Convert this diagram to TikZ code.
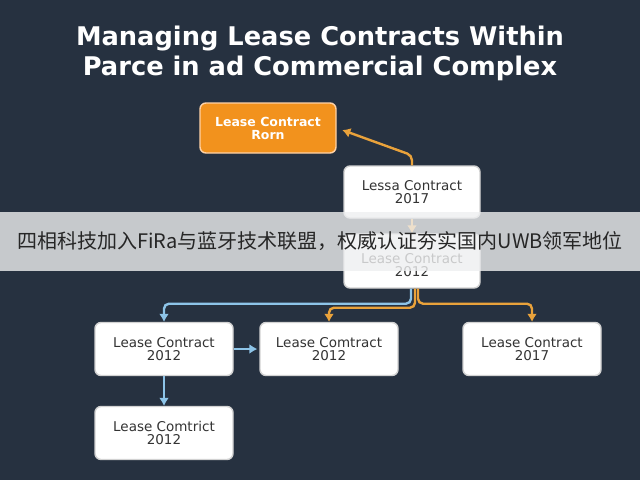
\documentclass[tikz,border=0pt]{standalone}
\usepackage{fontspec}
\setmainfont{Liberation Sans}
\newfontfamily\boxfont{DejaVu Sans}
\newfontfamily\cjk{Noto Sans CJK SC}
\usetikzlibrary{arrows.meta}

\definecolor{fond}{HTML}{263140}
\definecolor{orangebox}{HTML}{F2921D}
\definecolor{orangeline}{HTML}{E9A23B}
\definecolor{bleuline}{HTML}{8DC4E8}
\definecolor{bande}{HTML}{EEEFF0}

\tikzset{
  boite/.style={draw=gray!35, line width=1.4pt, fill=white, rounded corners=6pt,
    minimum width=138pt, minimum height=53pt, align=center, text=black!80,
    font=\boxfont\fontsize{13.5}{13}\selectfont},
  titre/.style={text=white, anchor=base, font=\boxfont\bfseries\fontsize{25.7}{30}\selectfont},
  lien/.style={line width=2.4pt, rounded corners=5pt}
}

\begin{document}
\begin{tikzpicture}[x=1pt, y=-1pt, >={Latex[length=8pt,width=10pt]}]
        % Fond
        \fill[fond] (0,0) rectangle (640,480);
        \useasboundingbox (0,0) rectangle (640,480);

        % Titre
        \node[titre] (titre1) at (320,45) {Managing Lease Contracts Within};
        \node[titre] (titre2) at (320,75) {Parce in ad Commercial Complex};

        % Boites du haut
        \node[boite, fill=orangebox, draw=orange!35!white, text=white,
              font=\boxfont\bfseries\fontsize{12.5}{13}\selectfont,
              minimum width=136pt, minimum height=50pt] (forme) at (268,128) {Lease Contract\\Rorn};
        \node[boite, minimum width=136pt, minimum height=52pt] (c2017) at (412,192) {Lessa Contract\\2017};
        \node[boite, minimum width=136pt, minimum height=54pt] (c2012) at (412,261) {\rule{0pt}{18pt}Lease Contract\\2012};

        % Boites du bas
        \foreach \nom/\x/\y/\txt in {ga/164/349/{Lease Contract\\2012},
                                     mi/329/349/{Lease Comtract\\2012},
                                     dr/532/349/{Lease Contract\\2017},
                                     bas/164/433/{Lease Comtrict\\2012}}
            \node[boite] (\nom) at (\x,\y) {\txt};

        % Liens
        \draw[lien, orangeline, ->, shorten >=6pt] (c2017.north) -- ++(0,-10) -- (forme.east);
        \draw[lien, orangeline, ->] (c2017.south) -- (c2012.north);
        \draw[lien, orangeline, ->] ([xshift=3pt]c2012.south) -- ++(0,19) -| (mi.north);
        \draw[lien, bleuline, ->] ([xshift=-1pt]c2012.south) -- ++(0,15) -| (ga.north);
        \draw[lien, orangeline, ->] ([xshift=6pt]c2012.south) -- ++(0,15) -| (dr.north);
        \draw[lien, bleuline, ->, shorten >=2pt] (ga.east) -- (mi.west);
        \draw[lien, bleuline, ->] (ga.south) -- (bas.north);

        % Bandeau
        \fill[bande, opacity=0.8] (0,212) rectangle (640,271);
        \node[font=\cjk\fontsize{20}{24}\selectfont, text=black!85] (bandeau) at (320,241)
            {四相科技加入FiRa与蓝牙技术联盟，权威认证夯实国内UWB领军地位};
\end{tikzpicture}
\end{document}
